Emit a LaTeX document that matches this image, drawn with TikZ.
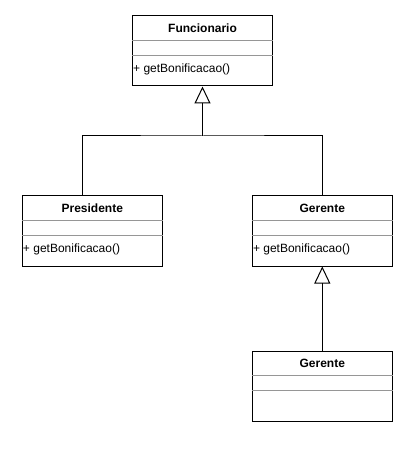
\documentclass[tikz,border=0pt]{standalone}
\usepackage{fontspec}
\setmainfont{Liberation Sans}
\usetikzlibrary{arrows.meta,calc}
\definecolor{sepgray}{RGB}{150,150,150}
\tikzset{
  umlbox/.style={draw=black, line width=1bp, minimum width=140bp, minimum height=70bp, inner sep=0pt, fill=white},
  title/.style={font=\fontsize{12bp}{14bp}\selectfont\bfseries, inner sep=0pt},
  member/.style={font=\fontsize{12bp}{14bp}\selectfont, inner sep=0pt, anchor=west},
  sep/.style={draw=sepgray, line width=1bp},
  conn/.style={draw=black, line width=1bp},
  inherit/.style={conn, -{Triangle[open, length=17bp, width=16bp]}},
}
\begin{document}
\begin{tikzpicture}[x=1bp,y=-1bp]
\useasboundingbox (0,0) rectangle (417,451);
% Funcionario
\node[umlbox] (func) at (202.5,51) {};
\node[title] (functitle) at (202.5,28) {Funcionario};
\draw[sep] ($(func.north west)+(0,25)$) -- ($(func.north east)+(0,25)$);
\draw[sep] ($(func.north west)+(0,40)$) -- ($(func.north east)+(0,40)$);
\node[member] (funcm) at ($(func.north west)+(1,54)$) {+ getBonificacao()};
% Presidente
\node[umlbox] (pres) at (92.3,231) {};
\node[title] (prestitle) at (92.3,208) {Presidente};
\draw[sep] ($(pres.north west)+(0,25)$) -- ($(pres.north east)+(0,25)$);
\draw[sep] ($(pres.north west)+(0,40)$) -- ($(pres.north east)+(0,40)$);
\node[member] (presm) at ($(pres.north west)+(1,54)$) {+ getBonificacao()};
% Gerente
\node[umlbox] (ger) at (322.3,231) {};
\node[title] (gertitle) at (322.3,208) {Gerente};
\draw[sep] ($(ger.north west)+(0,25)$) -- ($(ger.north east)+(0,25)$);
\draw[sep] ($(ger.north west)+(0,40)$) -- ($(ger.north east)+(0,40)$);
\node[member] (germ) at ($(ger.north west)+(1,54)$) {+ getBonificacao()};
% Gerente (bottom)
\node[umlbox] (ger2) at (322.3,386) {};
\node[title] (ger2title) at (322.3,363) {Gerente};
\draw[sep] ($(ger2.north west)+(0,25)$) -- ($(ger2.north east)+(0,25)$);
\draw[sep] ($(ger2.north west)+(0,40)$) -- ($(ger2.north east)+(0,40)$);
% connectors
\coordinate (j) at (202.5,136);
\coordinate (pj) at (82.7,196);
\draw[conn] (pj) |- (j) -| (ger.north);
\draw[inherit] (j) -- (func.south);
\draw[inherit] (ger2.north) -- (ger.south);
\end{tikzpicture}
\end{document}
